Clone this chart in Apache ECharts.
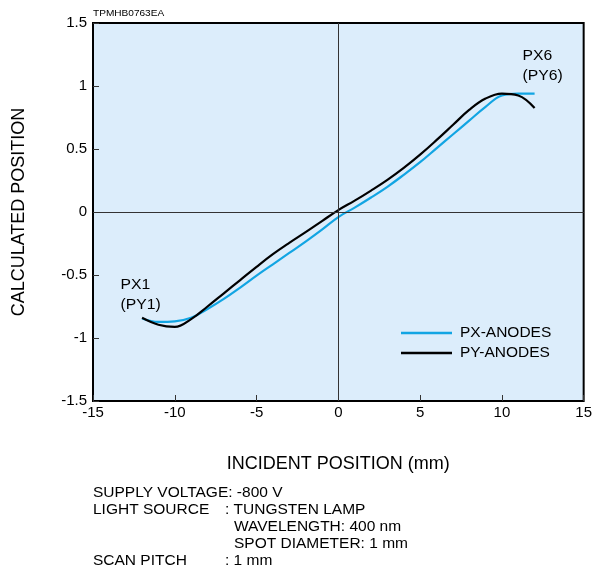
<!DOCTYPE html>
<html>
<head>
<meta charset="utf-8">
<script src="https://cdn.jsdelivr.net/npm/echarts@6/dist/echarts.min.js"></script>
<style>html,body{margin:0;padding:0;background:#fff}#c{width:595px;height:580px}</style>
</head>
<body>
<div id="c"></div>
<script>
const positions = [-12,-11,-10,-9,-8,-7,-6,-5,-4,-3,-2,-1,0,1,2,3,4,5,6,7,8,9,10,11,12];
const pxAnodes = [-0.845,-0.872,-0.868,-0.84,-0.77,-0.69,-0.60,-0.505,-0.415,-0.325,-0.235,-0.14,-0.04,0.035,0.115,0.20,0.295,0.395,0.505,0.615,0.725,0.835,0.925,0.94,0.94];
const pyAnodes = [-0.84,-0.895,-0.912,-0.85,-0.75,-0.645,-0.54,-0.435,-0.335,-0.245,-0.16,-0.072,0.015,0.09,0.17,0.255,0.35,0.455,0.57,0.69,0.81,0.90,0.94,0.925,0.825];
const seriesNames = ['PX-ANODES','PY-ANODES'];
const xTicks = {min:-15, max:15, interval:5};
const yTicks = {min:-1.5, max:1.5, interval:0.5};
const infoLeft = ['SUPPLY VOLTAGE: -800 V','LIGHT SOURCE','','','SCAN PITCH'];
const infoRight = ['', ': TUNGSTEN LAMP', 'WAVELENGTH: 400 nm', 'SPOT DIAMETER: 1 mm', ': 1 mm'];
const FONT = '"Liberation Sans", Arial, Helvetica, sans-serif';
const chart = echarts.init(document.getElementById('c'), null, {renderer:'canvas'});
const zip = (a) => positions.map((x,i)=>[x,a[i]]);
function txt(x, y, text, size, sx, lh){
  return {type:'text', x:x, y:y, scaleX:sx, silent:true,
    style:{text:text, font:size+'px '+FONT, fill:'#000', lineHeight:lh||size, verticalAlign:'top', align:'left'}};
}
const graphics = [
  txt(93, 9, 'TPMHB0763EA', 9, 1.12),
  txt(522.5, 45.5, 'PX6\n(PY6)', 15, 1.05, 20),
  txt(120.5, 275, 'PX1\n(PY1)', 15, 1.05, 20)
];
infoLeft.forEach((t,i)=>{
  const y = 485 + i*17.1;
  if (t) graphics.push(txt(93, y, t, 15.5, 1));
  const r = infoRight[i];
  if (r) graphics.push(txt(r.charAt(0)===':' ? 225 : 234, y, r, 15.5, 1));
});
chart.setOption({
  animation:false,
  textStyle:{fontFamily:FONT},
  grid:{left:93, right:11, top:23, bottom:179, show:true, backgroundColor:'#dcedfb', borderColor:'#000', borderWidth:2},
  legend:{orient:'vertical', left:396, top:320, itemWidth:51, itemHeight:2.5, itemGap:4, icon:'rect',
    textStyle:{fontSize:15.5, color:'#000', fontFamily:FONT, lineHeight:15, padding:[0,0,0,3]},
    data:seriesNames},
  xAxis:{type:'value', min:xTicks.min, max:xTicks.max, interval:xTicks.interval,
    name:'INCIDENT POSITION (mm)', nameLocation:'middle', nameGap:54,
    nameTextStyle:{fontSize:18, color:'#000', fontFamily:FONT},
    axisLine:{show:false, onZero:false}, axisTick:{inside:true, length:6, lineStyle:{color:'#333'}},
    axisLabel:{fontSize:15, color:'#000', margin:4, fontFamily:FONT}, splitLine:{show:false}},
  yAxis:{type:'value', min:yTicks.min, max:yTicks.max, interval:yTicks.interval,
    name:'CALCULATED POSITION', nameLocation:'middle', nameGap:65,
    nameTextStyle:{fontSize:18, color:'#000', fontFamily:FONT},
    axisLine:{show:false, onZero:false}, axisTick:{inside:true, length:6, lineStyle:{color:'#333'}},
    axisLabel:{fontSize:15, color:'#000', margin:6, fontFamily:FONT}, splitLine:{show:false}},
  graphic:graphics,
  series:[
    {name:seriesNames[0], type:'line', data:zip(pxAnodes), smooth:0.4, showSymbol:false,
      lineStyle:{color:'#12a5e3', width:2.2}, itemStyle:{color:'#12a5e3'}, z:3,
      markLine:{silent:true, symbol:'none', label:{show:false}, animation:false,
        lineStyle:{color:'#333', width:1, type:'solid'}, data:[{xAxis:0},{yAxis:0}]}},
    {name:seriesNames[1], type:'line', data:zip(pyAnodes), smooth:0.4, showSymbol:false,
      lineStyle:{color:'#000', width:2.2}, itemStyle:{color:'#000'}, z:4}
  ]
});
</script>
</body>
</html>
